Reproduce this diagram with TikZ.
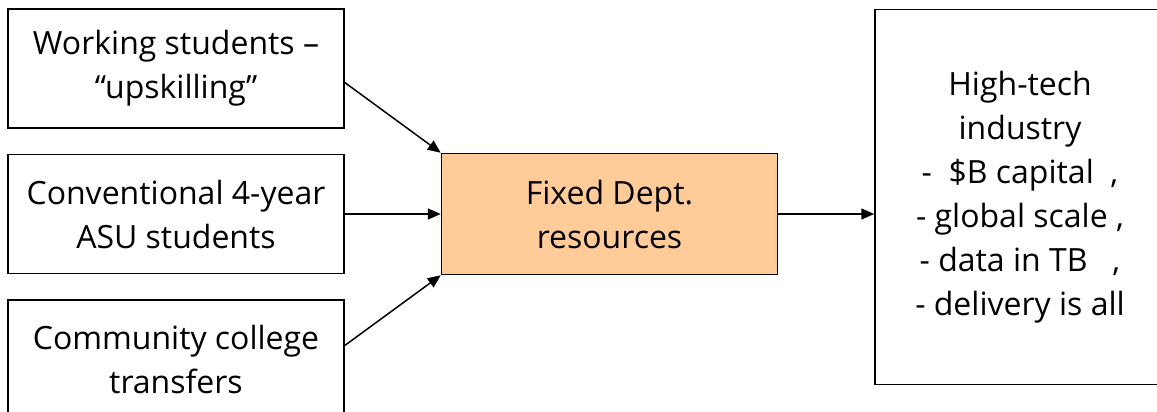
\documentclass[tikz,border=0pt]{standalone}
\usepackage{fontspec}
\setmainfont{Open Sans}
\usetikzlibrary{positioning, arrows.meta}
\definecolor{peach}{RGB}{255,204,153}
\tikzstyle{source} = [
    rectangle,
    minimum width=336pt, minimum height=119pt,
    text centered, align=center,
    draw=black, line width=1.5pt
]
\tikzstyle{resource} = [
    rectangle,
    minimum width=336pt, minimum height=121pt,
    text centered, align=center,
    draw=black, line width=1.5pt, fill=peach
]
\tikzstyle{industry} = [
    rectangle,
    minimum width=290pt, minimum height=375pt,
    text centered, align=center,
    draw=black, line width=1.5pt
]
\tikzstyle{arrow} = [line width=1.5pt,-{Triangle[length=13pt,width=11pt]}]

\begin{document}
\begin{tikzpicture}[node distance=25pt and 96pt, font=\fontsize{32}{44}\selectfont]
        \useasboundingbox (0,0) rectangle (1157pt,-412pt);
        % Draw blocks
        \node (working) [source] at (176pt,-68.5pt) {Working students --\\``upskilling''};
        \node (conventional) [source, below=of working] {Conventional 4-year\\ASU students};
        \node (community) [source, below=of conventional] {Community college\\transfers};
        \node (fixed) [resource, right=of conventional] {Fixed Dept.\\resources};
        \node (hightech) [industry, right=of fixed, yshift=17pt] {High-tech\\industry\\-\ \ \$B capital\ \ ,\\- global scale ,\\- data in TB\ \ \ ,\\- delivery is all};

        % Draw arrows
        \draw [arrow] ([yshift=-14pt]working.east) -- (fixed.north west);
        \draw [arrow] (conventional) -- (fixed);
        \draw [arrow] ([yshift=14pt]community.east) -- (fixed.south west);
        \draw [arrow] (fixed.east) -- (fixed.east -| hightech.west);
    \end{tikzpicture}
\end{document}
